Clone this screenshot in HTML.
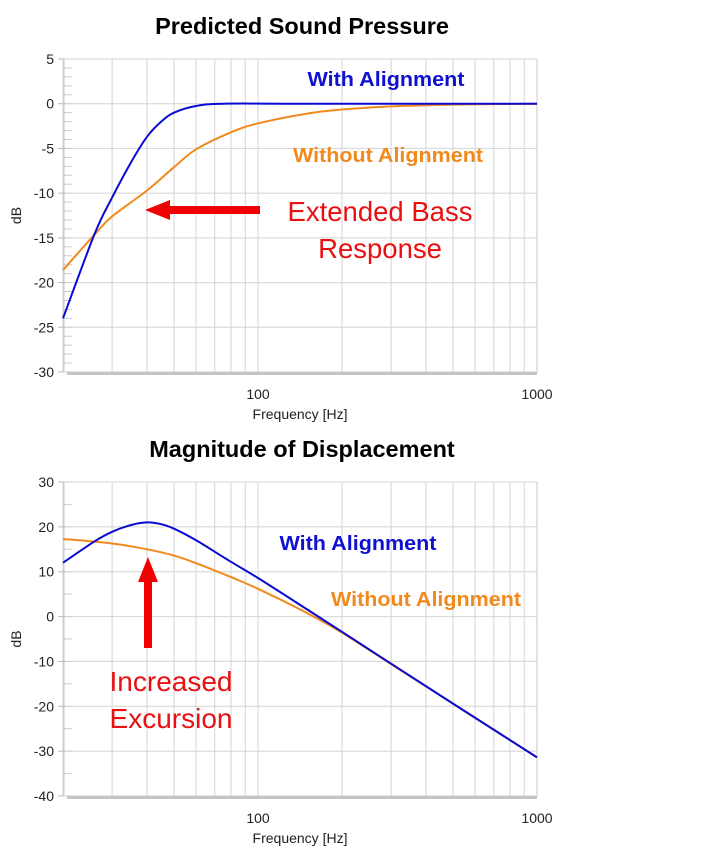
<!DOCTYPE html>
<html><head><meta charset="utf-8"><style>
html,body{margin:0;padding:0;background:#fff;}
svg{display:block;font-family:"Liberation Sans",sans-serif;}
</style></head><body>
<svg id="s" width="711" height="857" xmlns="http://www.w3.org/2000/svg"></svg>
<script>
const s=document.getElementById('s');
let h='';
function X(f){return 258+279*Math.log10(f/100);}
function smooth(P){
  // Catmull-Rom through pixel points
  let d='M'+P[0][0].toFixed(1)+','+P[0][1].toFixed(1);
  for(let i=0;i<P.length-1;i++){
    const p0=P[i-1]||P[i],p1=P[i],p2=P[i+1],p3=P[i+2]||P[i+1];
    const c1=[p1[0]+(p2[0]-p0[0])/6,p1[1]+(p2[1]-p0[1])/6];
    const c2=[p2[0]-(p3[0]-p1[0])/6,p2[1]-(p3[1]-p1[1])/6];
    d+=` C${c1[0].toFixed(1)},${c1[1].toFixed(1)} ${c2[0].toFixed(1)},${c2[1].toFixed(1)} ${p2[0].toFixed(1)},${p2[1].toFixed(1)}`;
  }
  return d;
}
function chart(top,bot,ymax,ymin,step,minor,xlY,series){
  const L=64,R=537,sc=(bot-top)/(ymax-ymin);
  const Y=v=>top+(ymax-v)*sc;
  for(let d of [10,100]) for(let k=1;k<10;k++){const f=d*k;if(f<20||f>1000)continue;
    h+=`<line x1="${X(f)}" y1="${top}" x2="${X(f)}" y2="${bot}" stroke="#d4d4d4" stroke-width="1"/>`;}
  h+=`<line x1="${R}" y1="${top}" x2="${R}" y2="${bot}" stroke="#c8c8c8"/>`;
  for(let v=ymax;v>=ymin;v-=step){
    h+=`<line x1="${L}" y1="${Y(v)}" x2="${R}" y2="${Y(v)}" stroke="#d4d4d4"/>`;
    h+=`<text x="54" y="${Y(v)+5}" font-size="14" text-anchor="end" fill="#222">${v}</text>`;
    h+=`<line x1="${L-6}" y1="${Y(v)}" x2="${L}" y2="${Y(v)}" stroke="#bbb"/>`;
  }
  for(let v=ymax;v>=ymin;v-=minor){h+=`<line x1="${L}" y1="${Y(v)}" x2="${L+8}" y2="${Y(v)}" stroke="#ccc"/>`;}
  h+=`<line x1="${L}" y1="${top}" x2="${L}" y2="${bot}" stroke="#c8c8c8"/>`;
  h+=`<line x1="${L+3}" y1="${bot+1.5}" x2="${R}" y2="${bot+1.5}" stroke="#c4c4c4" stroke-width="3"/>`;
  h+=`<text x="258" y="${xlY}" font-size="14" text-anchor="middle" fill="#222">100</text>`;
  h+=`<text x="537" y="${xlY}" font-size="14" text-anchor="middle" fill="#222">1000</text>`;
  h+=`<text x="300" y="${xlY+20}" font-size="14" text-anchor="middle" fill="#222">Frequency [Hz]</text>`;
  const my=(top+bot)/2;
  h+=`<text x="21" y="${my}" font-size="14" text-anchor="middle" fill="#222" transform="rotate(-90 21 ${my})">dB</text>`;
  for(const [col,pts] of series){
    const P=pts.map(p=>[X(p[0]),Y(p[1])]);
    h+=`<path fill="none" stroke="${col}" stroke-width="2" stroke-linejoin="round" d="${smooth(P)}"/>`;
  }
}
chart(59,372,5,-30,5,1,399,[
 ['#f08a1c',[[20,-18.6],[26,-14.6],[30,-12.6],[40,-9.7],[50,-7.1],[60,-5.1],[80,-3.2],[100,-2.2],[150,-1.1],[200,-0.65],[300,-0.3],[500,-0.1],[1000,0]]],
 ['#0a0ad2',[[20,-24],[26,-14.5],[30,-10.5],[35,-6.6],[40,-3.7],[45,-2],[50,-1],[60,-0.25],[75,0],[150,0],[1000,0]]]
]);
chart(482,796,30,-40,10,5,823,[
 ['#f08a1c',[[20,17.3],[30,16.3],[40,15],[50,13.6],[60,11.9],[80,8.8],[100,6.2],[150,0.8],[200,-3.6],[300,-10.6],[500,-19.4],[1000,-31.4]]],
 ['#0a0ad2',[[20,12],[26,16.8],[30,18.9],[35,20.4],[40,21],[45,20.6],[50,19.6],[60,17],[80,12.2],[100,8.6],[150,1.6],[200,-3.4],[300,-10.5],[500,-19.4],[1000,-31.4]]]
]);
h+=`<text x="302" y="34" font-size="23.5" font-weight="bold" text-anchor="middle" fill="#000">Predicted Sound Pressure</text>`;
h+=`<text x="302" y="457" font-size="23.5" font-weight="bold" text-anchor="middle" fill="#000">Magnitude of Displacement</text>`;
h+=`<text x="386" y="86" font-size="20" font-weight="bold" text-anchor="middle" fill="#1010d0" textLength="157" lengthAdjust="spacingAndGlyphs">With Alignment</text>`;
h+=`<text x="388" y="162" font-size="20" font-weight="bold" text-anchor="middle" fill="#f08a1c" textLength="190" lengthAdjust="spacingAndGlyphs">Without Alignment</text>`;
h+=`<text x="380" y="221" font-size="27.5" text-anchor="middle" fill="#e81010">Extended Bass</text>`;
h+=`<text x="380" y="258" font-size="27.5" text-anchor="middle" fill="#e81010">Response</text>`;
h+=`<rect x="168" y="206" width="92" height="8" fill="#f00000"/><polygon points="145,210 170,200 170,220" fill="#f00000"/>`;
h+=`<text x="358" y="550" font-size="20" font-weight="bold" text-anchor="middle" fill="#1010d0" textLength="157" lengthAdjust="spacingAndGlyphs">With Alignment</text>`;
h+=`<text x="426" y="606" font-size="20" font-weight="bold" text-anchor="middle" fill="#f08a1c" textLength="190" lengthAdjust="spacingAndGlyphs">Without Alignment</text>`;
h+=`<text x="171" y="691" font-size="28" text-anchor="middle" fill="#e81010">Increased</text>`;
h+=`<text x="171" y="728" font-size="28" text-anchor="middle" fill="#e81010">Excursion</text>`;
h+=`<rect x="144" y="580" width="8" height="68" fill="#f00000"/><polygon points="148,557 138,582 158,582" fill="#f00000"/>`;
s.innerHTML=h;
</script>
</body></html>
